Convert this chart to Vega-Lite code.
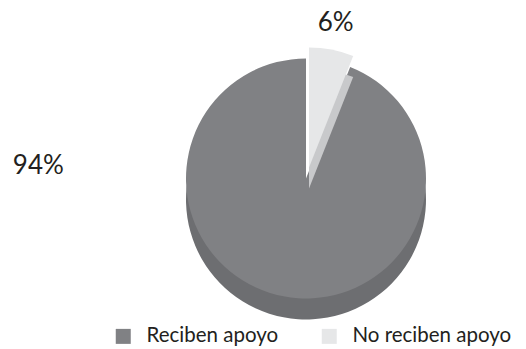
{
  "$schema": "https://vega.github.io/schema/vega-lite/v6.json",
  "autosize": "none",
  "width": 440,
  "height": 341,
  "padding": {"left": 86, "top": 8, "right": 0, "bottom": 0},
  "background": "white",
  "config": {"view": {"stroke": null}, "font": "Lato"},
  "data": {"values": [
    {"category": "No reciben apoyo", "value": 6, "label": "6%"},
    {"category": "Reciben apoyo", "value": 94, "label": "94%"}
  ]},
  "transform": [
    {"stack": "value", "groupby": [], "sort": [{"field": "category", "order": "ascending"}], "as": ["v0", "v1"]}
  ],
  "layer": [
    {
      "transform": [{"filter": "datum.category === 'Reciben apoyo'"}],
      "mark": {"type": "arc", "radius": 120, "yOffset": 21, "fill": "#6d6e71"},
      "encoding": {
        "theta": {"field": "v0", "type": "quantitative", "scale": {"domain": [0, 100]}},
        "theta2": {"field": "v1"}
      }
    },
    {
      "transform": [{"filter": "datum.category === 'Reciben apoyo'"}],
      "mark": {"type": "arc", "radius": 120},
      "encoding": {
        "theta": {"field": "v0", "type": "quantitative", "scale": {"domain": [0, 100]}},
        "theta2": {"field": "v1"},
        "color": {
          "field": "category", "type": "nominal",
          "scale": {"domain": ["Reciben apoyo", "No reciben apoyo"], "range": ["#808184", "#e6e7e8"]},
          "legend": {
            "title": null, "orient": "none", "direction": "horizontal",
            "legendX": 27, "legendY": 318,
            "symbolType": "square", "symbolSize": 225, "symbolStrokeWidth": 0,
            "labelFontSize": 20.5, "labelFont": "Lato", "labelColor": "#231f20",
            "labelOffset": 13, "columnPadding": 40
          }
        }
      }
    },
    {
      "transform": [{"filter": "datum.category === 'No reciben apoyo'"}],
      "mark": {"type": "arc", "radius": 120, "xOffset": 3, "yOffset": 10, "fill": "#c8c9cb"},
      "encoding": {
        "theta": {"field": "v0", "type": "quantitative", "scale": {"domain": [0, 100]}},
        "theta2": {"field": "v1"}
      }
    },
    {
      "transform": [{"filter": "datum.category === 'No reciben apoyo'"}],
      "mark": {"type": "arc", "radius": 120, "xOffset": 3, "yOffset": -11},
      "encoding": {
        "theta": {"field": "v0", "type": "quantitative", "scale": {"domain": [0, 100]}},
        "theta2": {"field": "v1"},
        "color": {"field": "category", "type": "nominal"}
      }
    },
    {
      "mark": {"type": "text", "radius": 158, "fontSize": 26, "font": "Lato", "color": "#231f20"},
      "encoding": {
        "theta": {"field": "value", "type": "quantitative", "stack": true},
        "order": {"field": "category", "type": "ordinal"},
        "text": {"field": "label"},
        "opacity": {"condition": {"test": "datum.category === 'No reciben apoyo'", "value": 1}, "value": 0}
      }
    },
    {
      "transform": [{"filter": "datum.category === 'Reciben apoyo'"}],
      "mark": {"type": "text", "theta": 4.76, "radius": 268, "fontSize": 26, "font": "Lato", "color": "#231f20"},
      "encoding": {
        "text": {"field": "label"}
      }
    }
  ]
}
